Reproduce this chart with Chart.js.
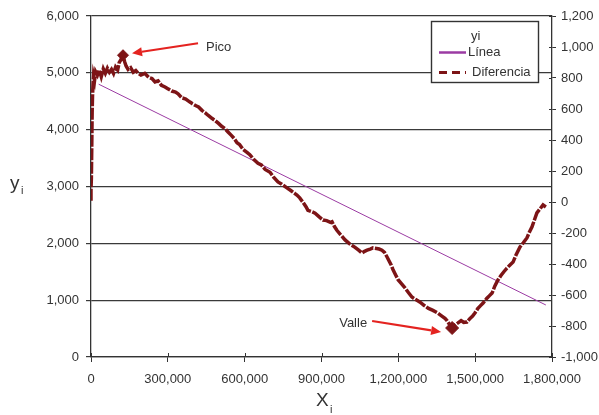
<!DOCTYPE html>
<html>
<head>
<meta charset="utf-8">
<script src="https://cdn.jsdelivr.net/npm/chart.js@4/dist/chart.umd.min.js"></script>
<style>
html,body{margin:0;padding:0;background:#fff;}
canvas{display:block;}
</style>
</head>
<body>
<canvas id="c" width="599" height="415"></canvas>
<script>
// ---- data ----
const diferenciaX = [0,0,1500,2500,3500,4500,6000,8000,10000,14000,18000,25000,32000,40000,48000,56000,64000,72000,80000,88000,96000,104000,110000,118000,125000,131000,137000,145000,155000,165000,175000,185000,195000,210000,225000,238000,250000,262000,275000,289000,300000,315000,330000,340000,355000,370000,385000,395000,410000,420000,433000,445000,458000,472000,485000,498000,510000,523000,535000,548000,560000,570000,580000,594000,609000,620000,635000,652000,665000,680000,699000,712000,730000,745000,765000,780000,795000,804000,815000,828000,840000,847000,860000,875000,890000,906000,920000,935000,941000,950000,960000,975000,992000,1010000,1031000,1045000,1058000,1068000,1078000,1090000,1101000,1115000,1125000,1136000,1146000,1156000,1165000,1172000,1179000,1190000,1199000,1212000,1226000,1240000,1253000,1268000,1285000,1300000,1316000,1335000,1355000,1370000,1382000,1390000,1400000,1410000,1420000,1433000,1445000,1455000,1468000,1480000,1490000,1499000,1510000,1520000,1531000,1545000,1556000,1566000,1577000,1589000,1600000,1612000,1624000,1636000,1648000,1660000,1675000,1688000,1702000,1712000,1722000,1732000,1741000,1752000,1765000,1776000];
const diferenciaY = [2750,2950,3150,3500,3900,4300,4600,4800,4950,4870,5020,4960,5050,4930,5070,4990,5080,5010,5060,4990,5100,5050,5180,5240,5310,5200,5120,5060,5090,5010,5040,4990,4960,4990,4920,4900,4840,4860,4780,4750,4720,4680,4660,4630,4560,4540,4490,4460,4420,4400,4340,4300,4250,4200,4160,4110,4060,4020,3960,3900,3840,3770,3740,3650,3600,3560,3480,3410,3380,3300,3250,3170,3080,3040,2975,2930,2880,2850,2800,2720,2640,2580,2560,2530,2470,2410,2400,2370,2380,2300,2230,2150,2060,1990,1930,1880,1830,1860,1880,1900,1920,1910,1900,1880,1840,1760,1680,1620,1540,1440,1360,1290,1215,1130,1055,1010,965,910,860,820,770,720,680,640,570,510,560,600,640,610,615,680,720,775,850,900,950,1030,1080,1125,1250,1355,1430,1500,1565,1620,1670,1800,1935,2010,2095,2200,2290,2420,2535,2600,2675,2640];
const lineaX = [30000, 1776000];
const lineaY = [4800, 915];
const picoX = 125000, picoY = 5310;
const valleX = 1410000, valleY = 510;
const xTicks = [0,300000,600000,900000,1200000,1500000,1800000];
const leftTicks = [0,1000,2000,3000,4000,5000,6000];
const rightTicks = [-1000,-800,-600,-400,-200,0,200,400,600,800,1000,1200];
const legendTitle = 'yi';
const legendLabels = ['Línea','Diferencia'];

const FONT = '"Liberation Sans", Arial, sans-serif';
const TXT = '#333333';
const RED = '#7d1416';
const PURPLE = '#9b3ba3';
const fmt = v => v.toLocaleString('en-US');

const pts = (xs, ys) => xs.map((x,i)=>({x:x, y:ys[i]}));

const overlay = {
  id:'overlay',
  afterDraw(chart){
    const ctx = chart.ctx;
    const xs = chart.scales.x, ys = chart.scales.y, y2 = chart.scales.y2;
    const ca = chart.chartArea;
    ctx.save();
    // inner tick parts
    ctx.strokeStyle = '#333'; ctx.lineWidth = 1;
    ctx.beginPath();
    xTicks.forEach(v=>{const px=Math.round(xs.getPixelForValue(v))+0.5; ctx.moveTo(px,ca.bottom); ctx.lineTo(px,ca.bottom-4);});
    rightTicks.forEach(v=>{const py=Math.round(y2.getPixelForValue(v))+0.5; ctx.moveTo(ca.right,py); ctx.lineTo(ca.right-3,py);});
    ctx.stroke();

    // annotations
    const drawArrow=(x1,y1,x2,y2p)=>{
      ctx.strokeStyle='#e42320'; ctx.fillStyle='#e42320'; ctx.lineWidth=2.2;
      const a=Math.atan2(y2p-y1,x2-x1);
      const hl=10, hw=4.5;
      const bx=x2-hl*Math.cos(a), by=y2p-hl*Math.sin(a);
      ctx.beginPath(); ctx.moveTo(x1,y1); ctx.lineTo(bx,by); ctx.stroke();
      ctx.beginPath(); ctx.moveTo(x2,y2p);
      ctx.lineTo(bx+hw*Math.sin(a), by-hw*Math.cos(a));
      ctx.lineTo(bx-hw*Math.sin(a), by+hw*Math.cos(a));
      ctx.closePath(); ctx.fill();
    };
    const px = xs.getPixelForValue(picoX), py = ys.getPixelForValue(picoY);
    drawArrow(px+75, py-12, px+9, py-2);
    const vx = xs.getPixelForValue(valleX), vy = ys.getPixelForValue(valleY);
    drawArrow(vx-80, vy-7, vx-11, vy+4);
    ctx.fillStyle = TXT; ctx.font = '13px '+FONT; ctx.textBaseline='middle';
    ctx.textAlign='left'; ctx.fillText('Pico', px+83, py-8);
    ctx.textAlign='right'; ctx.fillText('Valle', vx-85, vy-5);

    // axis titles
    ctx.textAlign='left'; ctx.textBaseline='alphabetic';
    ctx.font='19px '+FONT; ctx.fillText('y', 10, 189);
    ctx.font='11px '+FONT; ctx.fillText('i', 21, 194);
    ctx.font='19px '+FONT; ctx.fillText('X', 316, 406);
    ctx.font='11px '+FONT; ctx.fillText('i', 330, 413);

    // legend
    const L=431.5, T=21.5, W=107, H=61;
    ctx.fillStyle='#fff'; ctx.fillRect(L,T,W,H);
    ctx.strokeStyle='#333'; ctx.lineWidth=1.4; ctx.strokeRect(L,T,W,H);
    ctx.fillStyle=TXT; ctx.font='13px '+FONT; ctx.textBaseline='middle';
    ctx.fillText(legendTitle, 471, 36);
    ctx.strokeStyle=PURPLE; ctx.lineWidth=2.5;
    ctx.beginPath(); ctx.moveTo(439,52.5); ctx.lineTo(466,52.5); ctx.stroke();
    ctx.fillText(legendLabels[0], 468, 52);
    ctx.strokeStyle=RED; ctx.lineWidth=3; ctx.setLineDash([8,5]);
    ctx.beginPath(); ctx.moveTo(439,72.5); ctx.lineTo(466,72.5); ctx.stroke();
    ctx.setLineDash([]);
    ctx.fillText(legendLabels[1], 472, 72);
    ctx.restore();
  }
};

new Chart(document.getElementById('c'), {
  type:'scatter',
  data:{
    datasets:[
      {label:'Marcas', data:[{x:picoX,y:picoY},{x:valleX,y:valleY}], yAxisID:'y', pointStyle:'rectRot', pointRadius:[5.5,6.5], backgroundColor:RED, borderColor:RED, showLine:false, order:0},
      {label:legendLabels[1], data:pts(diferenciaX,diferenciaY), yAxisID:'y', showLine:true, borderColor:RED, borderWidth:3.5, borderDash:[12,1.5], pointRadius:0, fill:false, order:1},
      {label:legendLabels[0], data:pts(lineaX,lineaY), yAxisID:'y', showLine:true, borderColor:PURPLE, borderWidth:1, pointRadius:0, fill:false, order:2}
    ]
  },
  options:{
    responsive:false, animation:false, devicePixelRatio:1,
    layout:{padding:{top:16,left:0,right:0,bottom:0}},
    plugins:{legend:{display:false}, tooltip:{enabled:false}},
    scales:{
      x:{type:'linear', min:0, max:1800000,
        afterBuildTicks(s){ s.ticks = xTicks.map(v=>({value:v})); },
        afterFit(s){ s.height = 58; },
        ticks:{callback:v=>fmt(v), color:TXT, font:{family:FONT,size:13}, padding:10, maxRotation:0, autoSkip:false},
        grid:{drawOnChartArea:false, drawTicks:true, tickLength:5, color:'#333', lineWidth:1},
        border:{color:'#333', width:1.3}
      },
      y:{type:'linear', position:'left', min:0, max:6000,
        afterBuildTicks(s){ s.ticks = leftTicks.map(v=>({value:v})); },
        afterFit(s){ s.width = 91; },
        ticks:{callback:v=>fmt(v), color:TXT, font:{family:FONT,size:13}, padding:7},
        grid:{drawOnChartArea:true, drawTicks:true, tickLength:5, color:'#3a3a3a', lineWidth:1.2},
        border:{color:'#333', width:1.3}
      },
      y2:{type:'linear', position:'right', min:-1000, max:1200,
        afterBuildTicks(s){ s.ticks = rightTicks.map(v=>({value:v})); },
        afterFit(s){ s.width = 47; },
        ticks:{callback:v=>fmt(v), color:TXT, font:{family:FONT,size:13}, padding:5},
        grid:{drawOnChartArea:false, drawTicks:true, tickLength:4, color:'#333', lineWidth:1},
        border:{color:'#333', width:1.3}
      }
    }
  },
  plugins:[overlay]
});
</script>
</body>
</html>
